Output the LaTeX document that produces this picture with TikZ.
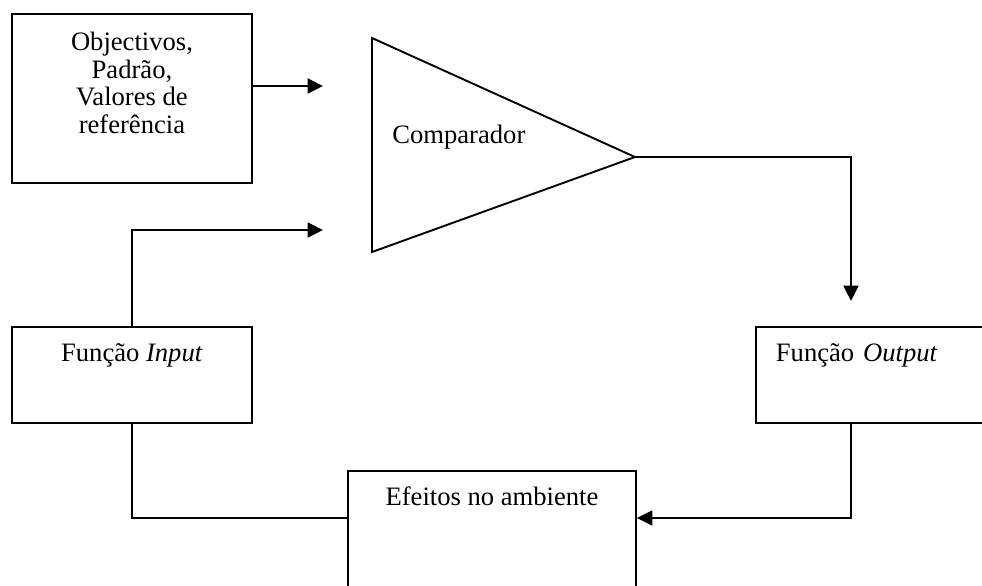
\documentclass[tikz,border=0pt]{standalone}
\usepackage{fontspec}
\setmainfont{Liberation Serif}
\usetikzlibrary{arrows.meta,positioning}

\begin{document}
\begin{tikzpicture}[
  x=0.5pt, y=-0.5pt,
  font=\fontsize{13.3}{13.75}\selectfont,
  box/.style={draw, line width=.95pt, inner sep=0pt, anchor=north west},
  ln/.style={line width=.95pt},
  ar/.style={-{Triangle[length=7.7pt, width=7.5pt]}, line width=.95pt},
]
\useasboundingbox (0,0) rectangle (982,585);
\clip (0,0) rectangle (982,585);

\node[box, minimum width=120pt, text height=18.5pt, text depth=66pt] (obj) at (11,13)
  {\begin{tabular}[t]{@{}c@{}}Objectivos,\\Padrão,\\Valores de\\referência\end{tabular}};

\draw[ln] (372,38) coordinate (cmptop) -- (635,157) coordinate (cmpout)
  -- (372,252) coordinate (cmpbot) -- cycle;
\node[anchor=base west, inner sep=0pt] (cmp) at (392,143) {Comparador};

\node[box, minimum width=120pt, text height=17.5pt, text depth=30.5pt] (inp) at (11,326)
  {Função \textit{Input}};
\node[box, text width=107.5pt, inner xsep=10pt, align=left, text height=17.5pt,
  text depth=30.5pt] (outp) at (755,326) {Função \textit{Output}};
\node[box, minimum width=144pt, text height=17.5pt, text depth=47.5pt] (eff) at (347,470)
  {Efeitos no ambiente};

\coordinate (in1) at (323,86);
\coordinate (in2) at (323,230);
\coordinate (outin) at (851,301);
\coordinate (loop) at (0,518);

\draw[ar] (obj.east |- in1) -- (in1);
\draw[ar] (inp.north) |- (in2);
\draw[ar] (cmpout) -| (outin);
\draw[ar] (outp.south -| outin) |- (eff.east |- loop);
\draw[ln] (inp.south) |- (eff.west |- loop);
\end{tikzpicture}
\end{document}
